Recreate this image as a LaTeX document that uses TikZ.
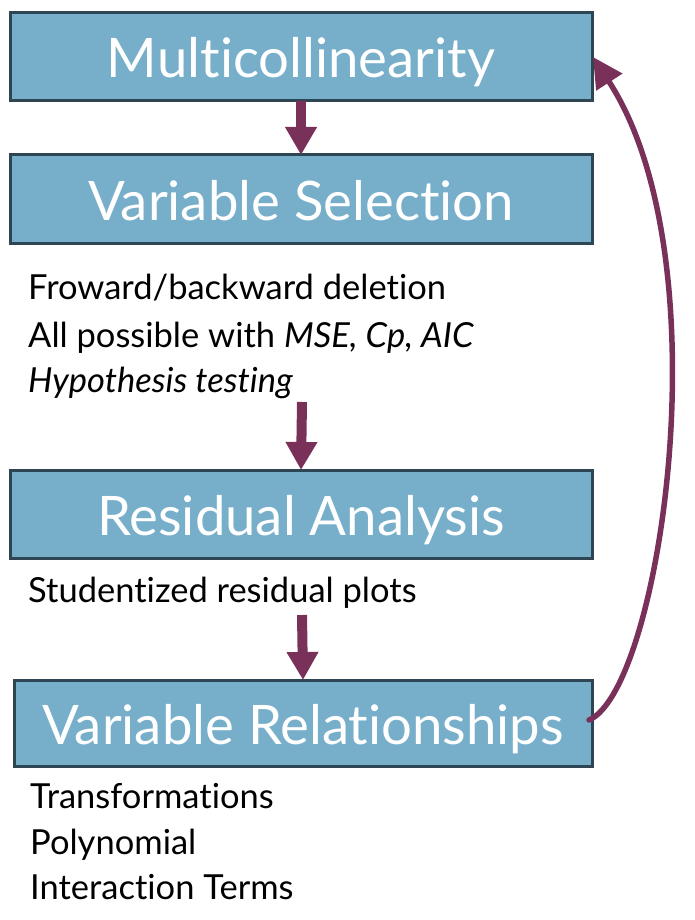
\documentclass[tikz,border=0pt]{standalone}
\usepackage{fontspec}
\setmainfont{Lato}[Ligatures=CommonOff]
\usetikzlibrary{arrows.meta}
\definecolor{boxfill}{HTML}{77AFCA}
\definecolor{boxline}{HTML}{2E4653}
\definecolor{plum}{HTML}{7A3159}
\begin{document}
\begin{tikzpicture}[x=1pt,y=-1pt,
  box/.style={draw=boxline,line width=3pt,fill=boxfill,inner sep=0pt},
  title/.style={text=white,font=\fontsize{54.5}{60}\selectfont,anchor=base,inner sep=0pt},
  body/.style={anchor=base west,font=\fontsize{34.5}{40}\selectfont,inner sep=0pt},
  flow/.style={draw=plum,line width=10pt,-{Triangle[width=30pt,length=28pt]}},
  loop/.style={draw=plum,line width=5.5pt,line cap=round,-{Triangle[width=30pt,length=30pt]}}]
\useasboundingbox (0,0) rectangle (694,920);
\node[box,minimum width=582pt,minimum height=88pt] (b1) at (301,57) {};
\node[title] (t1) at ([yshift=-21pt]b1.center) {Multicollinearity};
\node[box,minimum width=582pt,minimum height=88pt] (b2) at (301,199) {};
\node[title] (t2) at ([yshift=-21pt]b2.center) {Variable Selection};
\node[box,minimum width=582pt,minimum height=88pt] (b3) at (301,514) {};
\node[title] (t3) at ([yshift=-21pt]b3.center) {Residual Analysis};
\node[box,minimum width=578pt,minimum height=86pt] (b4) at (303,723) {};
\node[title] (t4) at ([yshift=-21pt]b4.center) {Variable Relationships};
\node[body] (l1) at (28,299) {Froward/backward deletion};
\node[body] (l2) at (28,347) {All possible with \textit{MSE, Cp, AIC}};
\node[body] (l3) at (28,392) {\textit{Hypothesis testing}};
\node[body] (l4) at (28,602) {Studentized residual plots};
\node[body] (l5) at (30,808) {Transformations};
\node[body] (l6) at (30,854) {Polynomial};
\node[body] (l7) at (30,899) {Interaction Terms};
\coordinate (a2s) at (302,402);
\coordinate (a3s) at (302,615);
\draw[flow] ([yshift=1.5pt]b1.south) -- ([yshift=-1.5pt]b2.north);
\draw[flow] (a2s) -- ([yshift=-1.5pt]b3.north);
\draw[flow] (a3s) -- ([yshift=-1.5pt]b4.north);
\coordinate (cs) at (589,720);
\coordinate (ce) at (593,57);
\draw[loop] (cs) .. controls (660,690) and (725,260) .. (ce);
\end{tikzpicture}
\end{document}
